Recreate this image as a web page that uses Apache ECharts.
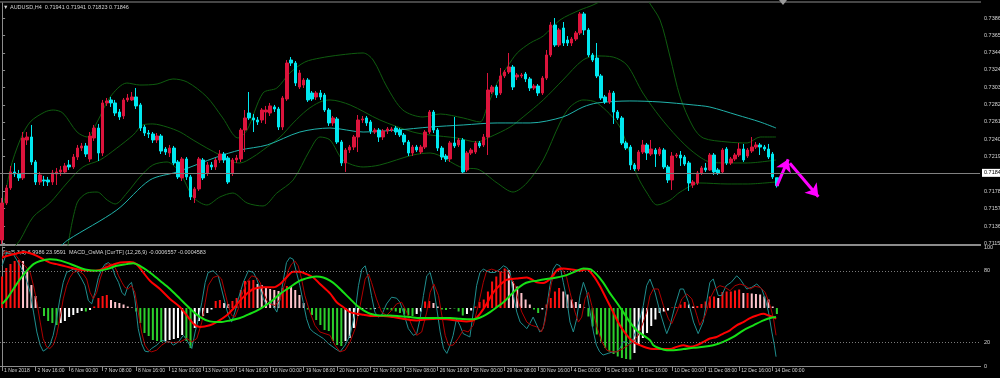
<!DOCTYPE html>
<html>
<head>
<meta charset="utf-8">
<script src="https://cdn.jsdelivr.net/npm/echarts@6/dist/echarts.min.js"></script>
<style>
html, body { margin: 0; padding: 0; background: #000; }
#main { width: 1000px; height: 378px; }
</style>
</head>
<body>
<div id="main"></div>
<script>
// AUDUSD H4, 1 Nov - 14 Dec 2018
var tickLabels = ['1 Nov 2018', '2 Nov 16:00', '6 Nov 00:00', '7 Nov 08:00', '8 Nov 16:00', '12 Nov 00:00',
	'13 Nov 08:00', '14 Nov 16:00', '16 Nov 00:00', '19 Nov 08:00', '20 Nov 16:00', '22 Nov 00:00',
	'23 Nov 08:00', '26 Nov 16:00', '28 Nov 00:00', '29 Nov 08:00', '30 Nov 16:00', '4 Dec 00:00',
	'5 Dec 08:00', '6 Dec 16:00', '10 Dec 00:00', '11 Dec 08:00', '12 Dec 16:00', '14 Dec 00:00'];

var priceTicks = [0.71155, 0.71360, 0.71570, 0.71780, 0.71990, 0.72195, 0.72405, 0.72615, 0.72820,
	0.73030, 0.73240, 0.73445, 0.73655, 0.73865];
var oscTicks = [0, 20, 80, 100];
var bidPrice = 0.71844;

var candleOpen = [0.71191,0.71637,0.71818,0.72011,0.71987,0.71939,0.72396,0.72432,0.72131,0.71890,
	0.71914,0.71914,0.71890,0.71987,0.72011,0.72011,0.72095,0.72071,0.72191,0.72299,
	0.72324,0.72167,0.72420,0.72540,0.72239,0.72842,0.72878,0.72842,0.72733,0.72685,
	0.72878,0.72878,0.72914,0.72818,0.72552,0.72480,0.72468,0.72396,0.72444,0.72287,
	0.72239,0.72299,0.72131,0.71939,0.72167,0.71951,0.71698,0.71806,0.72155,0.71999,
	0.72095,0.72071,0.72155,0.72227,0.72179,0.71999,0.72155,0.72167,0.72516,0.72721,
	0.72661,0.72637,0.72637,0.72733,0.72721,0.72794,0.72769,0.72552,0.72890,0.73359,
	0.73323,0.73034,0.73058,0.73118,0.72962,0.72914,0.72962,0.72938,0.72757,0.72601,
	0.72649,0.72372,0.72119,0.72275,0.72311,0.72432,0.72637,0.72661,0.72613,0.72492,
	0.72516,0.72432,0.72504,0.72516,0.72540,0.72516,0.72456,0.72372,0.72239,0.72311,
	0.72251,0.72311,0.72492,0.72733,0.72516,0.72299,0.72203,0.72167,0.72360,0.72336,
	0.72396,0.72035,0.72239,0.72251,0.72360,0.72336,0.72432,0.72974,0.73034,0.72962,
	0.73167,0.73215,0.73275,0.73155,0.73167,0.73191,0.73131,0.73022,0.73046,0.72962,
	0.73142,0.73420,0.73781,0.73540,0.73745,0.73600,0.73564,0.73612,0.73685,0.73914,
	0.73721,0.73420,0.73383,0.73167,0.72914,0.72854,0.72962,0.72733,0.72661,0.72360,
	0.72311,0.72095,0.72047,0.72251,0.72336,0.72227,0.72275,0.72227,0.72275,0.72071,
	0.71914,0.72203,0.72215,0.72191,0.72119,0.71854,0.71878,0.71999,0.72059,0.72035,
	0.72215,0.72035,0.72011,0.72287,0.72119,0.72167,0.72215,0.72287,0.72203,0.72263,
	0.72311,0.72336,0.72311,0.72287,0.72227,0.71941];

var candleClose = [0.71637,0.71818,0.72011,0.71987,0.71939,0.72420,0.72432,0.72131,0.71890,0.71974,
	0.71902,0.71890,0.71999,0.72011,0.72035,0.72083,0.72071,0.72191,0.72299,0.72324,
	0.72227,0.72444,0.72540,0.72239,0.72842,0.72866,0.72842,0.72721,0.72673,0.72878,
	0.72902,0.72914,0.72806,0.72540,0.72480,0.72468,0.72396,0.72444,0.72263,0.72251,
	0.72299,0.72119,0.71951,0.72167,0.71951,0.71710,0.71806,0.72167,0.71939,0.72095,
	0.72071,0.72155,0.72227,0.72155,0.71890,0.72155,0.72179,0.72516,0.72661,0.72661,
	0.72637,0.72613,0.72757,0.72757,0.72806,0.72769,0.72552,0.72902,0.73323,0.73323,
	0.73082,0.73203,0.73118,0.72878,0.72890,0.72962,0.72914,0.72757,0.72601,0.72661,
	0.72372,0.72119,0.72275,0.72311,0.72432,0.72637,0.72649,0.72601,0.72504,0.72516,
	0.72432,0.72504,0.72528,0.72528,0.72492,0.72456,0.72372,0.72239,0.72311,0.72275,
	0.72311,0.72492,0.72733,0.72516,0.72299,0.72191,0.72167,0.72360,0.72324,0.72396,
	0.72011,0.72239,0.72275,0.72360,0.72324,0.72432,0.72998,0.73034,0.72938,0.73167,
	0.73215,0.73275,0.73034,0.73179,0.73179,0.73131,0.73022,0.73046,0.72962,0.73142,
	0.73420,0.73781,0.73540,0.73721,0.73564,0.73564,0.73612,0.73685,0.73914,0.73721,
	0.73420,0.73359,0.73167,0.72902,0.72854,0.72962,0.72733,0.72661,0.72360,0.72299,
	0.72095,0.72047,0.72251,0.72336,0.72239,0.72287,0.72227,0.72287,0.72071,0.71914,
	0.72203,0.72215,0.72179,0.72107,0.71878,0.71890,0.71999,0.72059,0.72035,0.72215,
	0.72011,0.71999,0.72275,0.72119,0.72167,0.72215,0.72287,0.72155,0.72275,0.72311,
	0.72336,0.72311,0.72287,0.72191,0.71951,0.71846];

var candleLow = [0.71143,0.71613,0.71794,0.71951,0.71902,0.71914,0.72336,0.72095,0.71854,0.71854,
	0.71842,0.71842,0.71854,0.71854,0.71963,0.71987,0.72035,0.72047,0.72155,0.72263,
	0.72191,0.72131,0.72384,0.72143,0.72203,0.72806,0.72794,0.72685,0.72637,0.72649,
	0.72854,0.72866,0.72769,0.72504,0.72444,0.72420,0.72360,0.72360,0.72227,0.72215,
	0.72191,0.72095,0.71926,0.71902,0.71914,0.71673,0.71637,0.71782,0.71914,0.71963,
	0.72035,0.72035,0.72119,0.72119,0.71866,0.71963,0.72119,0.72131,0.72251,0.72637,
	0.72492,0.72577,0.72601,0.72589,0.72685,0.72733,0.72516,0.72516,0.72866,0.73287,
	0.73046,0.73010,0.73022,0.72854,0.72866,0.72878,0.72878,0.72733,0.72565,0.72565,
	0.72348,0.72083,0.72011,0.72239,0.72275,0.72251,0.72601,0.72565,0.72468,0.72468,
	0.72372,0.72396,0.72468,0.72492,0.72456,0.72432,0.72336,0.72203,0.72203,0.72251,
	0.72227,0.72287,0.72468,0.72480,0.72263,0.72155,0.72131,0.72131,0.72299,0.72311,
	0.71987,0.72011,0.72215,0.72227,0.72299,0.72311,0.72215,0.72950,0.72902,0.72938,
	0.73142,0.73191,0.72998,0.73118,0.73142,0.73094,0.72986,0.72998,0.72926,0.72938,
	0.73118,0.73395,0.73516,0.73516,0.73528,0.73528,0.73528,0.73588,0.73660,0.73660,
	0.73395,0.73335,0.73142,0.72878,0.72830,0.72830,0.72589,0.72637,0.72336,0.72275,
	0.72035,0.72023,0.72023,0.72227,0.72155,0.72203,0.72071,0.72203,0.72047,0.71878,
	0.71794,0.72179,0.72083,0.72083,0.71782,0.71818,0.71854,0.71975,0.72011,0.72023,
	0.71975,0.71975,0.71987,0.72095,0.72095,0.72143,0.72191,0.72131,0.72179,0.72239,
	0.72287,0.72215,0.72263,0.72167,0.71926,0.71823];

var candleHigh = [0.71698,0.71854,0.72083,0.72119,0.72035,0.72492,0.72492,0.72577,0.72155,0.72011,
	0.71963,0.71951,0.72035,0.72059,0.72083,0.72119,0.72155,0.72227,0.72336,0.72360,
	0.72360,0.72492,0.72577,0.72589,0.72878,0.72902,0.72914,0.72878,0.72769,0.72902,
	0.72950,0.72974,0.73022,0.72842,0.72577,0.72516,0.72492,0.72480,0.72468,0.72311,
	0.72336,0.72324,0.72155,0.72191,0.72191,0.71975,0.71830,0.72191,0.72179,0.72131,
	0.72131,0.72179,0.72275,0.72251,0.72203,0.72179,0.72215,0.72540,0.72757,0.72974,
	0.72709,0.72673,0.72781,0.72806,0.72842,0.72818,0.72794,0.72926,0.73359,0.73395,
	0.73347,0.73239,0.73142,0.73142,0.72986,0.72986,0.72998,0.72962,0.72781,0.72685,
	0.72673,0.72396,0.72299,0.72336,0.72456,0.72697,0.72685,0.72685,0.72637,0.72540,
	0.72540,0.72528,0.72552,0.72552,0.72565,0.72540,0.72480,0.72396,0.72336,0.72336,
	0.72336,0.72516,0.72757,0.72757,0.72540,0.72324,0.72227,0.72384,0.72673,0.72420,
	0.72420,0.72263,0.72299,0.72384,0.72384,0.72468,0.73203,0.73058,0.73058,0.73263,
	0.73239,0.73444,0.73299,0.73203,0.73203,0.73215,0.73155,0.73070,0.73070,0.73167,
	0.73480,0.73817,0.73865,0.73745,0.73817,0.73648,0.73636,0.73709,0.73938,0.73938,
	0.73745,0.73444,0.73564,0.73191,0.72938,0.72998,0.72986,0.72757,0.72685,0.72384,
	0.72336,0.72119,0.72275,0.72396,0.72360,0.72396,0.72299,0.72311,0.72299,0.72095,
	0.72251,0.72239,0.72263,0.72215,0.72143,0.71914,0.72023,0.72083,0.72119,0.72239,
	0.72239,0.72059,0.72299,0.72311,0.72191,0.72239,0.72360,0.72348,0.72299,0.72432,
	0.72372,0.72360,0.72336,0.72348,0.72251,0.71941];

// Bollinger bands and moving average, [bar, price]
var bbUpper = [[0,0.71493],[1.9,0.72035],[4.3,0.72396],[6.7,0.72613],[10.2,0.72733],[12.2,0.72757],[14.5,0.72721],
	[17.9,0.72492],[20.3,0.72432],[22.7,0.72613],[25.8,0.72914],[29.8,0.73082],[32.9,0.73058],[37.0,0.73070],
	[40.8,0.73131],[44.2,0.73094],[48.9,0.72914],[52.7,0.72661],[56.3,0.72420],[58.5,0.72516],[62.3,0.72962],
	[65.6,0.73022],[68.7,0.73203],[72.3,0.73335],[75.9,0.73383],[80.7,0.73420],[86.2,0.73444],[88.6,0.73359],
	[91.9,0.73034],[95.7,0.72757],[100.5,0.72673],[104.6,0.72709],[110.1,0.72661],[114.1,0.72613],[115.8,0.72793],
	[118.2,0.73082],[120.6,0.73275],[123.0,0.73444],[126.1,0.73564],[129.2,0.73648],[133.2,0.73841],[138.0,0.73962],
	[141.1,0.74022],[144.0,0.74106],[147.5,0.74323],[152.3,0.74323],[154.2,0.74082],[157.1,0.73841],[159.5,0.73395],
	[161.9,0.72914],[165.0,0.72552],[167.4,0.72420],[173.1,0.72372],[177.9,0.72360],[181.0,0.72432],[184.8,0.72432]];

var bbMiddle = [[3.1,0.71119],[4.3,0.71191],[7.4,0.71468],[11.4,0.71637],[15.5,0.71878],[19.3,0.72071],[23.4,0.72155],
	[27.4,0.72299],[31.3,0.72456],[33.6,0.72577],[36.0,0.72589],[39.4,0.72552],[42.5,0.72492],[45.6,0.72396],
	[48.9,0.72299],[52.0,0.72215],[55.1,0.72131],[56.8,0.72119],[59.9,0.72191],[63.3,0.72312],[66.4,0.72432],
	[69.5,0.72601],[72.8,0.72757],[75.9,0.72854],[78.3,0.72878],[83.1,0.72818],[90.2,0.72637],[98.1,0.72492],
	[102.2,0.72456],[108.6,0.72420],[113.4,0.72372],[116.5,0.72432],[121.3,0.72552],[124.4,0.72673],[129.2,0.72878],
	[133.9,0.73118],[138.7,0.73359],[142.1,0.73408],[145.9,0.73395],[149.2,0.73299],[153.0,0.72962],[157.1,0.72673],
	[161.2,0.72432],[165.0,0.72251],[169.0,0.72131],[173.1,0.72119],[177.9,0.72119],[184.8,0.72155]];

var bbLower = [[15.7,0.71119],[17.9,0.71637],[20.3,0.71757],[22.7,0.71769],[25.1,0.71673],[27.0,0.71625],[29.8,0.71757],
	[32.9,0.71950],[36.0,0.72095],[39.4,0.72131],[42.5,0.71999],[45.6,0.71709],[48.9,0.71613],[52.0,0.71709],
	[55.1,0.71757],[58.5,0.71637],[62.3,0.71601],[65.6,0.71757],[69.5,0.71914],[73.5,0.72275],[75.9,0.72432],
	[78.3,0.72396],[81.4,0.72155],[86.2,0.72071],[90.2,0.72095],[98.1,0.72215],[102.2,0.72239],[110.1,0.72059],
	[113.4,0.72047],[118.2,0.71878],[122.0,0.71769],[125.3,0.71878],[129.2,0.72155],[133.2,0.72601],[135.6,0.72793],
	[138.7,0.72878],[142.1,0.72842],[147.5,0.72552],[151.6,0.71974],[154.0,0.71757],[156.4,0.71613],[159.5,0.71673],
	[161.9,0.71769],[166.6,0.71878],[173.1,0.71866],[177.9,0.71866],[184.8,0.71890]];

var maLine = [[13.8,0.71107],[15.7,0.71191],[27.4,0.71553],[35.3,0.71914],[41.8,0.72011],[51.3,0.72191],[56.8,0.72275],
	[63.3,0.72336],[71.1,0.72492],[78.3,0.72540],[86.2,0.72492],[94.3,0.72516],[102.2,0.72552],[110.1,0.72577],
	[118.2,0.72601],[126.1,0.72601],[133.9,0.72673],[138.7,0.72793],[142.1,0.72842],[149.9,0.72866],[157.1,0.72854],
	[165.0,0.72818],[169.0,0.72793],[175.5,0.72697],[181.0,0.72613],[184.8,0.72540]];

// hand drawn arrows on the chart, [bar, price]
var arrowUp = [[185.0, 0.71842], [187.7, 0.72163]];
var arrowDown = [[188.1, 0.72115], [194.9, 0.71713]];

// OsMA histogram, in points (0.00001)
var osmaPoints = [63,80,88,94,96,94,76,46,24,1,
	-16,-26,-30,-34,-30,-26,-18,-14,-10,-6,
	-7,-4,3,20,24,26,16,12,10,7,
	3,1,-7,-30,-50,-56,-64,-66,-68,-66,
	-64,-62,-60,-54,-66,-80,-40,-26,-16,-10,
	-3,14,16,10,8,14,20,36,54,55,
	56,48,46,42,38,36,34,40,44,43,
	36,26,10,-3,-14,-24,-34,-44,-46,-66,
	-74,-76,-66,-60,-40,-16,-3,-1,-3,-2,
	1,-1,-3,-5,-7,-10,-13,-15,-16,-12,
	-7,13,14,10,3,-3,-4,-1,-1,-7,
	-15,-12,-5,3,12,17,33,53,63,72,
	79,76,53,43,30,17,7,-3,-10,-3,
	7,20,33,40,33,27,17,12,8,1,
	-17,-37,-53,-67,-80,-87,-92,-97,-100,-102,
	-103,-90,-73,-60,-50,-36,-23,-10,-7,-5,
	1,2,7,12,7,3,4,8,13,23,
	23,20,32,33,33,35,37,30,30,29,
	28,27,23,17,3,-12];

// Stochastic (5,3,3), [bar, value]
var stochMain = [[0,84.2],[1.1,95.3],[2.7,93.9],[4.3,84.2],[5.5,75.8],[6.7,61.9],[7.5,45.3],[8.3,28.6],[9.1,17.5],
	[9.8,12.5],[10.6,14.2],[11.4,17.5],[12.2,25.8],[13.0,39.7],[13.8,56.4],[14.6,70.3],[15.4,78.6],[16.2,80.0],
	[17.0,81.4],[17.8,80.0],[19.0,73.1],[19.8,67.5],[20.6,55.0],[21.4,52.2],[22.2,61.9],[23.0,74.4],[23.8,81.4],
	[24.6,85.6],[25.4,86.9],[26.2,84.2],[27.0,75.8],[27.8,70.3],[28.6,61.9],[29.3,59.2],[30.1,67.5],[30.9,70.3],
	[31.7,56.4],[32.5,31.4],[33.3,18.9],[34.1,12.5],[34.9,11.9],[35.7,14.7],[36.9,17.5],[38.1,21.7],[39.3,20.3],
	[40.1,20.3],[40.9,17.5],[42.1,20.3],[43.3,25.8],[44.1,21.7],[45.3,14.7],[46.1,28.6],[46.9,39.7],[47.7,53.6],
	[48.5,70.3],[49.2,78.6],[50.4,80.0],[51.6,75.8],[52.4,64.7],[53.2,53.6],[54.0,42.5],[54.8,36.9],[55.6,45.3],
	[56.4,56.4],[57.6,70.3],[58.8,80.0],[60.0,78.6],[60.8,73.1],[61.6,64.7],[62.4,56.4],[63.2,50.8],[64.0,55.0],
	[65.6,45.3],[66.4,56.4],[67.2,73.1],[67.9,86.9],[68.7,91.1],[69.5,89.7],[70.3,78.6],[71.1,67.5],[71.9,53.6],
	[72.7,39.7],[73.5,31.4],[74.3,28.6],[75.5,25.8],[76.7,23.1],[77.9,18.9],[79.5,14.7],[80.7,11.9],[81.9,17.5],
	[83.1,25.8],[84.3,45.3],[85.1,67.5],[85.9,81.4],[86.7,84.2],[87.5,73.1],[88.2,59.2],[89.0,45.3],[89.8,41.1],
	[90.6,42.5],[91.8,52.2],[93.0,57.8],[94.2,57.0],[95.0,53.6],[95.8,45.3],[97.0,31.4],[98.2,25.8],[99.0,27.2],
	[99.8,39.7],[100.6,59.2],[101.4,75.8],[102.2,78.6],[103.0,67.5],[103.8,48.1],[104.6,28.6],[105.4,14.7],
	[106.2,10.6],[107.0,17.5],[107.7,25.8],[108.5,39.7],[109.3,34.2],[110.1,27.2],[110.9,25.8],[111.7,24.4],
	[112.5,45.3],[113.3,67.5],[114.1,78.6],[114.9,81.4],[115.7,80.0],[116.5,78.6],[117.7,78.6],[118.9,81.4],
	[119.7,84.2],[120.5,82.8],[121.3,78.6],[122.1,59.2],[122.9,45.3],[123.7,36.9],[124.5,34.2],[125.3,31.4],
	[126.0,35.6],[126.8,41.1],[127.7,34.2],[128.4,28.6],[129.2,31.4],[130.0,48.1],[130.8,67.5],[131.6,81.4],
	[132.4,85.6],[133.2,84.2],[134.0,70.3],[134.8,56.4],[135.6,36.9],[136.4,28.6],[137.2,39.7],[138.0,59.2],
	[138.8,70.3],[139.6,61.9],[140.4,45.3],[141.2,28.6],[141.9,17.5],[142.7,11.9],[143.5,9.2],[144.7,10.6],
	[145.9,11.9],[146.7,11.9],[147.5,14.7],[148.3,20.3],[149.2,20.3],[149.9,17.5],[150.7,23.1],[151.5,31.4],
	[152.3,39.7],[153.1,50.8],[153.9,67.5],[154.7,73.1],[155.9,61.9],[157.1,45.3],[158.3,31.4],[158.7,27.2],
	[159.5,34.2],[160.7,50.8],[161.9,64.7],[162.7,64.7],[163.9,53.6],[165.1,36.9],[166.2,27.2],[167.4,36.9],
	[168.2,53.6],[169.0,70.3],[169.8,73.1],[171.0,59.2],[171.8,59.2],[172.9,67.5],[174.1,70.3],[175.4,75.8],
	[176.2,73.1],[177.0,68.9],[177.8,64.7],[179.0,66.1],[180.2,68.9],[181.4,64.7],[182.2,56.4],[183.0,45.3],
	[183.8,28.6],[184.4,17.5],[184.8,7.8]];

var stochSignal = [[0,89.7],[0.7,96.7],[1.9,95.3],[3.1,93.9],[4.3,88.3],[5.5,84.2],[6.7,78.6],[7.5,67.5],[8.3,53.6],
	[9.1,36.9],[9.8,23.1],[10.6,16.1],[11.4,14.7],[12.2,17.5],[13.0,25.8],[13.8,39.7],[14.6,56.4],[15.4,67.5],
	[16.2,74.4],[17.0,78.6],[18.2,80.0],[19.4,77.2],[20.2,73.1],[21.0,61.9],[21.8,56.4],[22.6,61.9],[23.4,73.1],
	[24.2,81.4],[25.0,85.6],[26.2,85.6],[27.0,82.8],[27.8,75.8],[28.6,70.3],[29.3,66.1],[30.1,64.7],[30.9,67.5],
	[31.7,61.9],[32.5,45.3],[33.3,28.6],[34.1,17.5],[34.9,13.3],[35.7,11.9],[36.9,13.3],[38.1,17.5],[39.3,20.3],
	[40.9,19.7],[42.5,20.3],[44.1,23.1],[45.3,20.3],[46.5,23.1],[47.7,36.9],[48.5,53.6],[49.2,67.5],[50.4,74.4],
	[51.6,75.8],[52.4,73.1],[53.2,61.9],[54.0,50.8],[54.8,42.5],[55.6,41.1],[56.4,48.1],[57.2,59.2],[58.4,70.3],
	[59.6,75.8],[60.8,74.4],[61.6,70.3],[62.4,61.9],[63.2,55.0],[64.0,52.2],[65.2,50.8],[66.4,56.4],[67.6,70.3],
	[68.3,80.0],[69.1,85.6],[69.9,88.3],[70.7,84.2],[71.5,73.1],[72.3,59.2],[73.5,45.3],[74.7,34.2],[75.9,28.6],
	[77.1,27.2],[78.3,25.8],[79.5,17.5],[80.7,11.9],[81.9,13.3],[83.1,20.3],[84.3,31.4],[85.5,50.8],[86.7,73.1],
	[87.5,77.2],[88.2,70.3],[89.4,56.4],[90.6,45.3],[91.8,42.5],[93.0,46.7],[94.2,52.2],[95.4,53.6],[96.6,45.3],
	[97.8,34.2],[99.0,25.8],[100.2,28.6],[101.4,45.3],[102.2,61.9],[103.1,68.9],[104.2,59.2],[105.0,42.5],
	[105.8,25.8],[106.6,17.5],[107.7,17.5],[108.9,23.1],[110.1,30.0],[111.3,28.6],[112.5,34.2],[113.7,50.8],
	[114.9,70.3],[115.7,80.0],[116.9,81.4],[118.1,80.0],[119.7,78.6],[120.5,80.8],[121.3,75.8],[122.5,67.5],
	[123.3,53.6],[124.1,45.3],[125.3,36.9],[126.4,34.2],[127.7,32.8],[128.8,28.6],[129.6,36.9],[130.4,53.6],
	[131.2,70.3],[132.4,81.4],[133.6,82.8],[134.8,74.4],[135.6,61.9],[136.8,45.3],[137.6,36.9],[138.4,41.1],
	[139.2,56.4],[140.0,61.9],[140.8,50.8],[141.9,34.2],[143.2,20.3],[144.4,13.3],[145.6,11.9],[146.7,11.9],
	[148.3,14.7],[149.5,17.5],[150.7,20.3],[151.9,25.8],[153.1,36.9],[153.9,45.3],[154.7,59.2],[155.5,64.7],
	[156.7,64.7],[157.9,50.8],[159.1,39.7],[159.9,35.6],[161.1,45.3],[162.3,56.4],[163.5,60.6],[164.7,56.4],
	[165.9,42.5],[166.6,34.2],[167.9,42.5],[169.0,56.4],[170.2,64.7],[171.4,67.5],[172.6,66.1],[173.8,63.3],
	[175.0,67.5],[176.2,68.9],[177.4,67.5],[178.6,64.7],[179.8,66.9],[181.0,66.1],[182.2,61.9],[183.4,50.8],
	[184.2,39.7],[184.8,25.8]];

// MACD lines drawn on the same 0-100 pane
var macdRed = [[0,91.1],[1.1,92.5],[2.7,93.9],[4.3,95.3],[5.1,95.8],[6.7,94.7],[8.3,92.5],[9.8,89.7],[11.4,86.9],
	[13.0,85.6],[14.6,84.2],[16.2,82.8],[18.6,80.8],[21.0,80.0],[23.4,80.8],[25.8,84.2],[28.2,86.9],[30.5,87.5],
	[32.1,85.6],[33.7,78.6],[35.3,71.7],[37.7,64.7],[40.1,56.4],[42.5,49.4],[44.1,42.5],[45.7,35.6],[47.3,32.8],
	[49.6,34.2],[51.2,36.9],[53.6,42.5],[55.2,48.1],[56.8,55.0],[58.4,60.6],[60.0,64.7],[62.4,66.1],[64.8,66.1],
	[66.4,68.9],[67.9,74.4],[69.5,79.2],[71.1,79.2],[72.7,77.2],[74.3,74.4],[75.9,68.9],[78.3,61.0],[79.9,53.6],
	[81.5,49.4],[83.1,45.3],[84.7,43.9],[86.3,43.1],[88.6,42.0],[91.0,42.0],[93.4,41.1],[96.6,39.2],[99.0,38.3],
	[101.4,39.2],[103.8,39.7],[106.2,39.2],[108.5,38.3],[110.9,37.5],[112.5,38.3],[114.1,43.9],[115.7,52.2],
	[117.3,61.9],[118.9,68.1],[120.5,72.5],[122.9,73.6],[125.3,74.4],[127.7,70.3],[129.2,69.7],[130.8,73.1],
	[132.4,80.0],[134.0,81.9],[135.6,81.4],[138.0,80.0],[139.6,81.4],[141.2,75.8],[142.7,67.5],[144.3,56.4],
	[145.9,45.3],[147.5,34.2],[149.2,25.8],[150.7,20.3],[152.3,17.5],[153.9,15.3],[155.5,14.2],[157.1,14.2],
	[159.5,14.2],[161.1,16.1],[162.7,17.5],[164.3,16.1],[165.9,17.5],[167.5,20.3],[169.0,23.1],[170.6,24.4],
	[172.2,27.2],[173.8,30.0],[175.4,34.2],[177.0,36.9],[178.6,40.3],[180.2,42.5],[181.8,43.9],[183.0,42.5],
	[184.2,41.1],[184.8,39.7]];

var macdGreen = [[0,52.2],[1.1,56.4],[2.7,64.7],[4.3,73.1],[5.9,80.0],[7.5,85.6],[9.1,88.3],[11.4,89.7],[13.0,89.2],
	[15.4,86.9],[17.8,83.6],[20.2,80.8],[22.6,80.0],[25.0,81.4],[27.4,84.2],[29.7,85.6],[31.3,86.4],[32.9,84.2],
	[35.3,78.6],[37.7,71.7],[40.1,64.7],[42.5,56.4],[44.9,48.1],[47.3,41.1],[49.6,37.5],[52.0,36.9],[54.4,38.3],
	[56.8,40.3],[59.2,43.9],[61.6,48.1],[64.0,53.6],[66.4,60.6],[68.7,66.1],[71.1,71.7],[73.5,74.4],[75.1,75.3],
	[76.7,74.4],[78.3,71.7],[79.9,67.5],[81.5,61.9],[83.1,56.4],[84.7,50.8],[86.3,46.7],[87.9,43.9],[90.2,42.5],
	[92.6,42.5],[95.0,41.9],[97.4,41.1],[99.8,40.3],[102.2,40.3],[104.6,40.3],[107.0,40.3],[109.3,39.7],
	[111.7,39.2],[113.3,39.7],[114.9,41.9],[116.5,45.3],[118.1,49.4],[119.7,53.6],[121.3,59.2],[122.9,64.7],
	[124.5,68.9],[126.0,70.8],[127.7,71.7],[130.0,73.1],[132.4,74.4],[134.8,76.4],[137.2,80.0],[138.8,81.9],
	[140.4,81.4],[141.9,77.2],[143.5,70.3],[145.0,61.9],[146.7,53.6],[148.3,45.3],[149.9,36.9],[151.5,30.0],
	[153.1,25.8],[154.7,21.7],[155.5,17.5],[157.1,14.7],[158.7,13.3],[160.3,13.3],[162.7,14.2],[165.1,15.3],
	[167.5,16.1],[169.8,17.5],[172.2,20.3],[174.6,24.4],[177.0,30.0],[179.4,34.2],[181.8,38.3],[183.4,40.3],
	[184.8,41.1]];

var totalSlots = 234;
var categories = [];
for (var i = 0; i < totalSlots; i++) {
	categories.push(i);
}

var candleData = candleOpen.map(function (o, i) {
	return [o, candleClose[i], candleLow[i], candleHigh[i]];
});

var textFont = 'Liberation Sans, DejaVu Sans, sans-serif';
var labelColor = '#d4d4d4';
var frameColor = '#8c8c8c';

function showTick(index) {
	return index % 8 === 0 && index / 8 < tickLabels.length;
}

function lineSeries(name, data, xi, yi, color, width, smooth) {
	return {
		name: name,
		type: 'line',
		xAxisIndex: xi,
		yAxisIndex: yi,
		data: data,
		showSymbol: false,
		symbol: 'none',
		smooth: smooth,
		lineStyle: { color: color, width: width },
		emphasis: { disabled: true },
		z: 3
	};
}

var myChart = echarts.init(document.getElementById('main'));

var maSeries = lineSeries('MA', maLine, 2, 0, '#20b2aa', 1, 0.3);
maSeries.markLine = {
	silent: true,
	symbol: ['none', 'arrow'],
	symbolSize: 12,
	label: { show: false },
	lineStyle: { color: '#ff00ff', width: 3, type: 'solid' },
	data: [
		[{ coord: arrowUp[0] }, { coord: arrowUp[1] }],
		[{ coord: arrowDown[0] }, { coord: arrowDown[1] }]
	]
};

var stochSeries = lineSeries('Sto', stochMain, 3, 1, '#1f8e8e', 1, false);
stochSeries.markLine = {
	silent: true,
	symbol: 'none',
	label: { show: false },
	lineStyle: { color: '#7a7a7a', width: 1, type: [1, 2] },
	data: [{ yAxis: 80 }, { yAxis: 20 }]
};

myChart.setOption({
	backgroundColor: '#000',
	animation: false,

	grid: [
		{ left: 0, right: 20, top: 3, height: 242, containLabel: false, outerBoundsMode: 'none' },
		{ left: 0, right: 20, top: 247, height: 119, containLabel: false, outerBoundsMode: 'none' }
	],

	xAxis: [
		{ type: 'category', gridIndex: 0, data: categories, show: false },
		{
			type: 'category',
			gridIndex: 1,
			data: categories,
			axisLine: { show: false },
			axisTick: {
				show: true,
				interval: function (index) { return showTick(index); },
				alignWithLabel: true,
				length: 5,
				lineStyle: { color: frameColor }
			},
			axisLabel: {
				interval: function (index) { return showTick(index); },
				formatter: function (value, index) {
					return showTick(index) ? tickLabels[index / 8] : '';
				},
				align: 'left',
				margin: 2,
				padding: [0, 0, 0, 2],
				color: labelColor,
				fontSize: 5,
				fontFamily: textFont
			},
			splitLine: { show: false }
		},
		{ type: 'value', gridIndex: 0, min: -0.5, max: totalSlots - 0.5, show: false },
		{ type: 'value', gridIndex: 1, min: -0.5, max: totalSlots - 0.5, show: false }
	],

	yAxis: [
		{
			type: 'value',
			gridIndex: 0,
			position: 'right',
			min: 0.71131,
			max: 0.74046,
			axisLine: { show: true, lineStyle: { color: frameColor } },
			axisTick: { show: true, length: 3, customValues: priceTicks, lineStyle: { color: frameColor } },
			axisLabel: {
				customValues: priceTicks,
				formatter: function (v) { return v.toFixed(5); },
				margin: 4,
				color: labelColor,
				fontSize: 5.5,
				fontFamily: textFont
			},
			splitLine: { show: false }
		},
		{
			type: 'value',
			gridIndex: 1,
			position: 'right',
			min: 0,
			max: 100,
			axisLine: { show: true, lineStyle: { color: frameColor } },
			axisTick: { show: true, length: 3, customValues: oscTicks, lineStyle: { color: frameColor } },
			axisLabel: {
				customValues: oscTicks,
				margin: 4,
				color: labelColor,
				fontSize: 5.5,
				fontFamily: textFont
			},
			splitLine: { show: false }
		},
		{ type: 'value', gridIndex: 1, min: -116, max: 122, show: false }
	],

	graphic: [
		{ type: 'rect', shape: { x: 0, y: 1.5, width: 981, height: 1 }, style: { fill: frameColor }, silent: true },
		{ type: 'rect', shape: { x: 0, y: 244, width: 981, height: 2 }, style: { fill: frameColor }, silent: true },
		{ type: 'rect', shape: { x: 0, y: 366, width: 981, height: 1 }, style: { fill: frameColor }, silent: true },
		{ type: 'polygon', shape: { points: [[779, 0], [787, 0], [783, 5]] }, style: { fill: '#9a9a9a' }, silent: true },
		{
			type: 'text', left: 3, top: 4, silent: true,
			style: { text: '\u25BC AUDUSD,H4  0.71941 0.71941 0.71823 0.71846', fill: labelColor, font: '5.5px ' + textFont }
		},
		{
			type: 'text', left: 2, top: 249, silent: true,
			style: { text: 'Sto(5,3,3) 6.9986 23.9591  MACD_OsMA [CurTF] (12,26,9) -0.0006557 -0.0004583', fill: labelColor, font: '5.5px ' + textFont }
		}
	],

	series: [
		lineSeries('BB upper', bbUpper, 2, 0, '#0f5c0f', 1, 0.3),
		lineSeries('BB middle', bbMiddle, 2, 0, '#0f5c0f', 1, 0.3),
		lineSeries('BB lower', bbLower, 2, 0, '#0f5c0f', 1, 0.3),
		maSeries,
		{
			name: 'AUDUSD',
			type: 'candlestick',
			xAxisIndex: 0,
			yAxisIndex: 0,
			data: candleData,
			barWidth: 3,
			itemStyle: {
				color: '#dc143c',
				color0: '#00e8f0',
				borderColor: '#dc143c',
				borderColor0: '#00e8f0',
				borderWidth: 1
			},
			emphasis: { disabled: true },
			z: 4,
			markLine: {
				silent: true,
				symbol: 'none',
				lineStyle: { color: '#808080', width: 1, type: 'solid' },
				label: {
					position: 'end',
					formatter: bidPrice.toFixed(5),
					color: '#000',
					backgroundColor: '#fff',
					padding: [1, 2],
					distance: 2,
					fontSize: 5.5,
					fontFamily: textFont
				},
				data: [{ yAxis: bidPrice }]
			}
		},
		{
			name: 'OsMA',
			type: 'bar',
			xAxisIndex: 1,
			yAxisIndex: 2,
			data: osmaPoints,
			barWidth: 2,
			itemStyle: {
				color: function (p) {
					var v = osmaPoints[p.dataIndex];
					var prev = p.dataIndex > 0 ? osmaPoints[p.dataIndex - 1] : v;
					if (v >= 0) return v >= prev ? '#ff1010' : '#ffc4cc';
					return v <= prev ? '#2ccf2c' : '#ffffff';
				}
			},
			emphasis: { disabled: true },
			z: 2
		},
		stochSeries,
		lineSeries('Sto signal', stochSignal, 3, 1, '#b00000', 1, false),
		lineSeries('MACD', macdRed, 3, 1, '#ff0000', 2, 0.3),
		lineSeries('Signal', macdGreen, 3, 1, '#16e016', 2, 0.3)
	]
});
</script>
</body>
</html>
